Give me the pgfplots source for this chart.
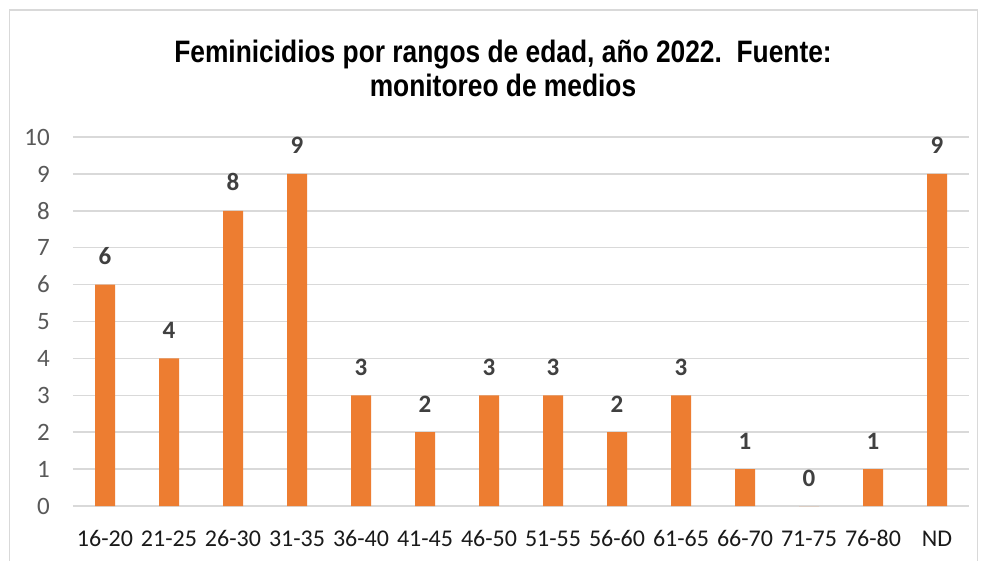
\documentclass[border=0pt]{standalone}
\usepackage{pgfplots}
\pgfplotsset{compat=1.18}
\usepackage{fontspec}
\setmainfont{Carlito}
\newfontfamily\titlefont[FakeStretch=0.85]{Liberation Sans}
\definecolor{barorange}{HTML}{ED7D31}
\definecolor{gridgray}{HTML}{D9D9D9}
\definecolor{ticklab}{HTML}{595959}
\definecolor{vallab}{HTML}{404040}
\definecolor{xlab}{HTML}{1A1A1A}
\pgfplotstableread{
x y
0 6
1 4
2 8
3 9
4 3
5 2
6 3
7 3
8 2
9 3
10 1
11 0
12 1
13 9
}\datatable
\begin{document}
\begin{tikzpicture}[x=1pt,y=1pt]
\path[use as bounding box] (0,0) rectangle (987,560);
\fill[white] (0,0) rectangle (987,560);
\draw[gridgray, line width=1.5pt] (9.5,-10) rectangle (977.5,550);
\node[font=\titlefont\bfseries\fontsize{31}{36}\selectfont, anchor=base, inner sep=0pt] at (503,497) {Feminicidios por rangos de edad, año 2022.\ \ Fuente:};
\node[font=\titlefont\bfseries\fontsize{31}{36}\selectfont, anchor=base, inner sep=0pt] at (503,463) {monitoreo de medios};
\begin{axis}[
  at={(73pt,54pt)}, anchor=south west,
  scale only axis, width=896pt, height=369pt,
  xmin=-0.5, xmax=13.5, ymin=0, ymax=10,
  ytick={0,1,...,10},
  xtick={0,1,...,13},
  xticklabels={16-20,21-25,26-30,31-35,36-40,41-45,46-50,51-55,56-60,61-65,66-70,71-75,76-80,ND},
  ybar, bar width=20pt,
  axis line style={draw=none},
  major tick length=0pt,
  ymajorgrids,
  grid style={gridgray, line width=1.5pt},
  xticklabel style={font=\fontsize{24}{28}\selectfont, text=xlab, anchor=base, inner sep=0pt, yshift=-40pt},
  yticklabel style={font=\fontsize{25}{28}\selectfont, text=ticklab, anchor=east, inner sep=0pt, xshift=-23pt},
  /pgf/number format/assume math mode=true,
  nodes near coords,
  nodes near coords style={font=\bfseries\fontsize{25}{28}\selectfont, text=vallab, anchor=base, inner sep=0pt, yshift=20pt},
  clip=false,
]
\addplot[draw=none, fill=barorange] table[x=x, y=y] {\datatable};
\end{axis}
\end{tikzpicture}
\end{document}
